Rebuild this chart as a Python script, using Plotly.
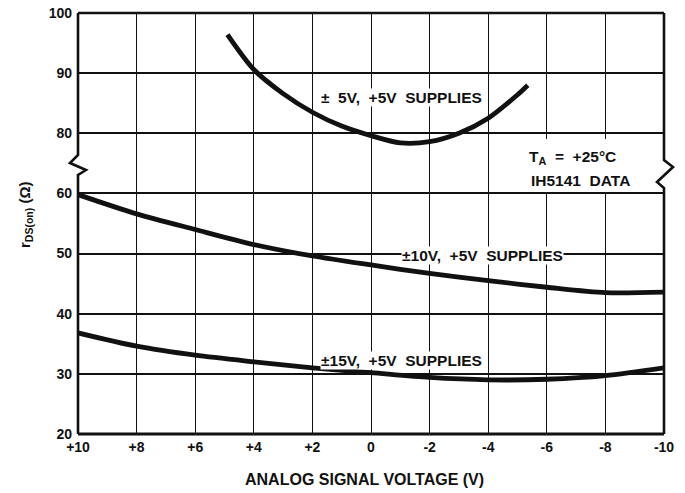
import plotly.graph_objects as go

# Analog signal voltage (V) and on-resistance (ohms) per supply condition
volts = [10, 8, 6, 4, 2, 0, -2, -4, -6, -8, -10]
r_on_15v = [36.8, 34.6, 33.1, 32.0, 31.0, 30.2, 29.4, 29.0, 29.1, 29.7, 31.0]
r_on_10v = [59.8, 56.6, 54.0, 51.5, 49.6, 48.1, 46.7, 45.5, 44.4, 43.5, 43.6]
volts_5v = [4.9, 4, 3, 2, 1, 0, -1, -2, -3, -4, -5, -5.35]
r_on_5v = [96.4, 90.6, 86.6, 83.5, 81.2, 79.6, 78.4, 78.6, 80.0, 82.5, 86.4, 88.0]

x_tickvals = [10, 8, 6, 4, 2, 0, -2, -4, -6, -8, -10]
x_ticktext = ["+10", "+8", "+6", "+4", "+2", "0", "-2", "-4", "-6", "-8", "-10"]
y_low_ticks = [20, 30, 40, 50, 60]
y_high_ticks = [80, 90, 100]

FONT = "Liberation Sans, Arial, sans-serif"
INK = "#111111"

# broken axis: lower segment 20..65, upper segment 75..100
low_range = [20, 65]
high_range = [75, 100]
split = (low_range[1] - low_range[0]) / ((low_range[1] - low_range[0]) + (high_range[1] - high_range[0]))

line_style = dict(color=INK, width=4.8, shape="spline", smoothing=0.8)

fig = go.Figure()
fig.add_trace(go.Scatter(x=volts, y=r_on_15v, mode="lines", line=line_style,
                         xaxis="x", yaxis="y", hoverinfo="skip"))
fig.add_trace(go.Scatter(x=volts, y=r_on_10v, mode="lines", line=line_style,
                         xaxis="x", yaxis="y", hoverinfo="skip"))
fig.add_trace(go.Scatter(x=volts_5v, y=r_on_5v, mode="lines", line=line_style,
                         xaxis="x", yaxis="y2", hoverinfo="skip"))

tick_font = dict(family=FONT, size=14, color=INK, weight="bold")
ytick_font = dict(family=FONT, size=14, color=INK, weight="bold")

fig.update_layout(
    width=685, height=493,
    margin=dict(l=78, r=21, t=13, b=59, autoexpand=False),
    paper_bgcolor="white", plot_bgcolor="white",
    showlegend=False,
    xaxis=dict(range=[10, -10], tickvals=x_tickvals, ticktext=x_ticktext,
               showgrid=True, gridcolor=INK, gridwidth=1.3, zeroline=False,
               showline=False, ticks="", tickfont=tick_font, anchor="y",
               ticklabelstandoff=3, automargin=False),
    yaxis=dict(domain=[0, split], range=low_range, tickvals=y_low_ticks,
               showgrid=True, gridcolor=INK, gridwidth=1.7, zeroline=False,
               showline=False, ticks="", tickfont=ytick_font, ticklabelstandoff=5,
               automargin=False),
    yaxis2=dict(domain=[split, 1], range=high_range, tickvals=y_high_ticks,
                showgrid=True, gridcolor=INK, gridwidth=1.7, zeroline=False,
                showline=False, ticks="", tickfont=ytick_font, ticklabelstandoff=5,
                anchor="x", automargin=False),
)

# paper-coordinate helpers (plot area is 586 x 421 px)
PW, PH = 586.0, 421.0
def py(px_from_bottom):
    return px_from_bottom / PH

def pxr(px):
    return px / PW

# white panel behind the temperature note
fig.add_shape(type="rect", xref="paper", yref="paper",
              x0=pxr(427), x1=1 - pxr(3), y0=py(242), y1=py(295),
              fillcolor="white", line=dict(width=0), layer="above")

# frame with break marks on both sides
left_path = (f"M 0,1 L 0,{py(279)} L {-pxr(8)},{py(271)} L {pxr(8)},{py(264)} "
             f"L 0,{py(259)} L 0,0")
right_path = (f"M 1,1 L 1,{py(274)} L {1 + pxr(9)},{py(267)} L {1 - pxr(7)},{py(252)} "
              f"L 1,{py(246)} L 1,0")
fig.add_shape(type="path", xref="paper", yref="paper", path=left_path,
              line=dict(color=INK, width=2.6), layer="above")
fig.add_shape(type="path", xref="paper", yref="paper", path=right_path,
              line=dict(color=INK, width=2.6), layer="above")
fig.add_shape(type="line", xref="paper", yref="paper", x0=0, x1=1, y0=1, y1=1,
              line=dict(color=INK, width=2.6), layer="above")
fig.add_shape(type="line", xref="paper", yref="paper", x0=0, x1=1, y0=0, y1=0,
              line=dict(color=INK, width=3), layer="above")

label_font = dict(family=FONT, size=15.5, color=INK, weight="bold")

fig.add_annotation(x=-1.05, y=85.9, xref="x", yref="y2",
                   text="±  5V,  +5V  SUPPLIES", showarrow=False,
                   font=label_font, bgcolor="white", borderpad=0)
fig.add_annotation(x=-3.8, y=49.7, xref="x", yref="y",
                   text="±10V,  +5V  SUPPLIES", showarrow=False,
                   font=label_font, bgcolor="white", borderpad=0)
fig.add_annotation(x=-1.05, y=32.3, xref="x", yref="y",
                   text="±15V,  +5V  SUPPLIES", showarrow=False,
                   font=label_font, bgcolor="white", borderpad=0)

fig.add_annotation(x=-5.33, y=py(277), xref="x", yref="paper", xanchor="left",
                   yanchor="middle",
                   text="T<sub>A</sub>  =  +25°C", showarrow=False, font=label_font)
fig.add_annotation(x=-5.4, y=py(254), xref="x", yref="paper", xanchor="left",
                   yanchor="middle",
                   text="IH5141  DATA", showarrow=False, font=label_font)

# axis titles
fig.add_annotation(x=-pxr(53), y=py(219), xref="paper", yref="paper",
                   xanchor="center", yanchor="middle",
                   text="r<sub>DS(on)</sub> (Ω)", textangle=-90, showarrow=False,
                   font=dict(family=FONT, size=15, color=INK, weight="bold"))
fig.add_annotation(x=pxr(286), y=-py(46), xref="paper", yref="paper",
                   xanchor="center", yanchor="middle",
                   text="ANALOG SIGNAL VOLTAGE (V)", showarrow=False,
                   font=dict(family=FONT, size=16, color=INK, weight="bold"))

fig.write_html("out.html")
